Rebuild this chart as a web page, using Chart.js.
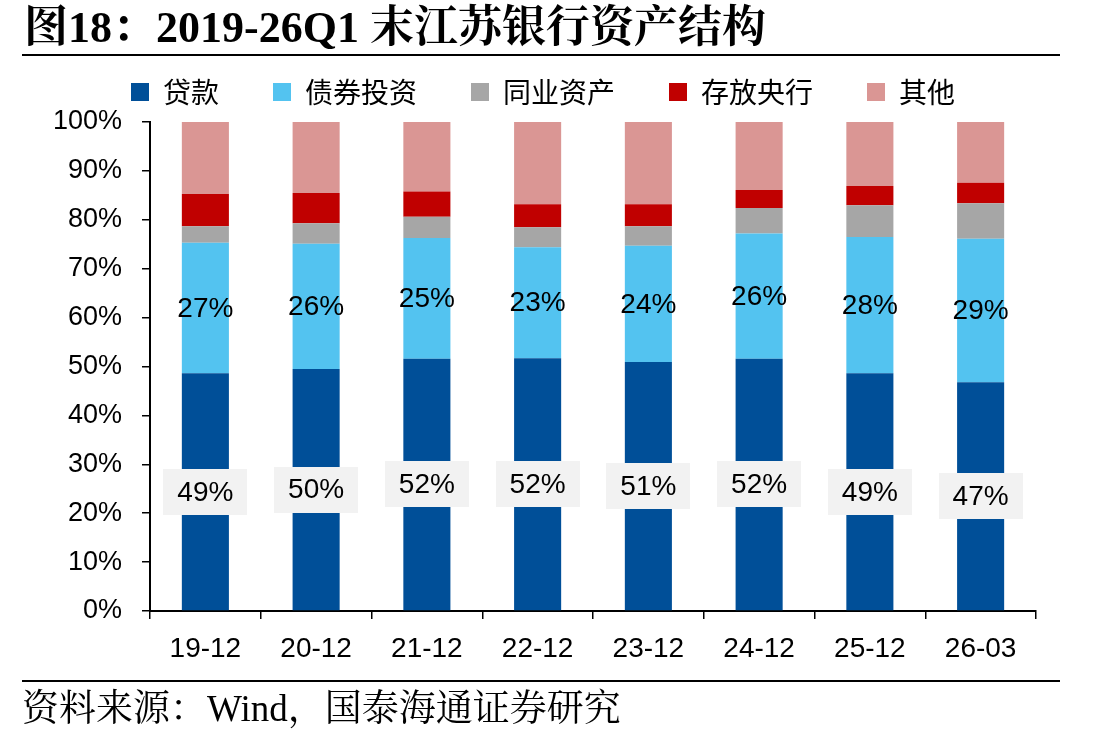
<!DOCTYPE html>
<html>
<head>
<meta charset="utf-8">
<script src="https://cdn.jsdelivr.net/npm/chart.js@4.4.1/dist/chart.umd.min.js"></script>
<style>
html,body{margin:0;padding:0;background:#fff;}
#wrap{position:relative;width:1108px;height:742px;overflow:hidden;background:#fff;}
#c{position:absolute;left:0;top:0;}
#title{position:absolute;left:24px;top:2px;font-weight:bold;font-size:44px;font-family:"Liberation Serif","Noto Serif CJK SC","Noto Sans CJK SC",serif;white-space:nowrap;line-height:52px;color:#000;}
#tline{position:absolute;left:22px;top:54px;width:1038px;height:2px;background:#000;}
#fline{position:absolute;left:22px;top:680px;width:1038px;height:2px;background:#000;}
#foot{position:absolute;left:22px;top:686px;font-size:37px;font-family:"Liberation Serif","Noto Serif CJK SC","Noto Sans CJK SC",serif;white-space:nowrap;line-height:46px;color:#000;}
</style>
</head>
<body>
<div id="wrap">
  <canvas id="c" width="1108" height="742"></canvas>
  <div id="title">图18：2019-26Q1 末江苏银行资产结构</div>
  <div id="tline"></div>
  <div id="fline"></div>
  <div id="foot">资料来源：Wind，国泰海通证券研究</div>
</div>
<script>
// ---- data ----
const categories = ['19-12','20-12','21-12','22-12','23-12','24-12','25-12','26-03'];
const seriesNames = ['贷款','债券投资','同业资产','存放央行','其他'];
const loans       = [48.6, 49.5, 51.6, 51.7, 50.9, 51.6, 48.6, 46.8];
const bonds       = [26.7, 25.6, 24.7, 22.7, 23.8, 25.6, 27.9, 29.3];
const interbank   = [3.4, 4.2, 4.3, 4.1, 4.0, 5.2, 6.5, 7.3];
const centralBank = [6.6, 6.2, 5.2, 4.7, 4.5, 3.7, 3.9, 4.2];
const others      = [14.7, 14.5, 14.2, 16.8, 16.8, 13.9, 13.1, 12.4];
const yTicks = [0,10,20,30,40,50,60,70,80,90,100];
const labelledSeries = [0, 1];

const colors = ['#004F98', '#53C3F0', '#A6A6A6', '#C00000', '#DA9694'];
const seriesData = [loans, bonds, interbank, centralBank, others];

const latinFont = '"Liberation Sans", Arial, sans-serif';
const cjkFont = '"Noto Sans CJK SC", "Liberation Sans", sans-serif';

const legendSpace = {
  id: 'legendSpace',
  beforeInit(chart) {
    if (!chart.legend || chart.legend._patched) return;
    const f = chart.legend.fit;
    chart.legend.fit = function () { f.call(this); this.height += 6; };
    chart.legend._patched = true;
  }
};

const segLabels = {
  id: 'segLabels',
  afterDatasetsDraw(chart) {
    const ctx = chart.ctx;
    labelledSeries.forEach(di => {
      const meta = chart.getDatasetMeta(di);
      meta.data.forEach((bar, i) => {
        const v = chart.data.datasets[di].data[i];
        const p = bar.getProps(['x', 'y', 'base'], true);
        const cy = (p.y + p.base) / 2;
        ctx.save();
        if (di === 0) {
          ctx.fillStyle = '#F2F2F2';
          ctx.fillRect(Math.round(p.x - 42), Math.round(cy - 23), 84, 46);
        }
        ctx.fillStyle = '#000';
        ctx.font = '28px ' + latinFont;
        ctx.textAlign = 'center';
        ctx.textBaseline = 'middle';
        ctx.fillText(Math.round(v) + '%', p.x, cy + 1);
        ctx.restore();
      });
    });
  }
};

new Chart(document.getElementById('c'), {
  type: 'bar',
  data: {
    labels: categories,
    datasets: seriesNames.map((name, k) => ({
      label: name,
      data: seriesData[k],
      backgroundColor: colors[k],
      borderWidth: 0,
      barPercentage: 0.425,
      categoryPercentage: 1.0
    }))
  },
  options: {
    responsive: false,
    devicePixelRatio: 1,
    animation: false,
    layout: { padding: { left: 50, right: 72, top: 24, bottom: 0 } },
    plugins: {
      tooltip: { enabled: false },
      title: { display: false },
      legend: {
        display: true,
        position: 'top',
        align: 'center',
        labels: {
          boxWidth: 18,
          boxHeight: 18,
          padding: 54,
          color: '#000',
          font: { family: cjkFont, size: 28 }
        }
      }
    },
    scales: {
      x: {
        stacked: true,
        grid: { display: true, offset: true, drawOnChartArea: false, drawTicks: true, tickLength: 8, color: '#000', lineWidth: 1.5 },
        border: { display: true, color: '#000', width: 2 },
        ticks: { color: '#000', font: { family: latinFont, size: 28 }, padding: 13, maxRotation: 0, autoSkip: false },
        afterFit(s) { s.height = 131; }
      },
      y: {
        stacked: true,
        min: 0,
        max: 100,
        afterBuildTicks(s) { s.ticks = yTicks.map(v => ({ value: v })); },
        ticks: { color: '#000', font: { family: latinFont, size: 27 }, padding: 20, callback: v => v + '%' },
        grid: { display: true, drawOnChartArea: false, drawTicks: true, tickLength: 8, color: '#000', lineWidth: 1.5 },
        border: { display: true, color: '#000', width: 2 },
        afterFit(s) { s.width = 100; }
      }
    }
  },
  plugins: [legendSpace, segLabels]
});
</script>
</body>
</html>
